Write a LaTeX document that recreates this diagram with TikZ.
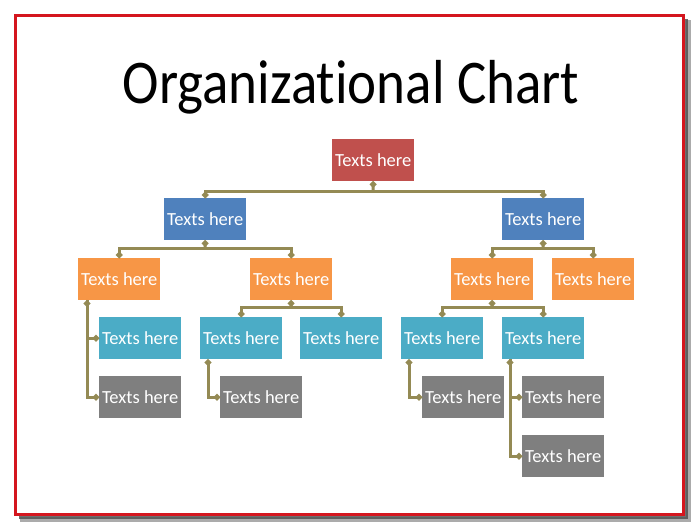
\documentclass[tikz,border=0pt]{standalone}
\usepackage{fontspec}
\setmainfont{Carlito}[Ligatures=NoCommon]
\usetikzlibrary{arrows.meta}
\definecolor{cRoot}{HTML}{C0504D}
\definecolor{cBlue}{HTML}{4F81BD}
\definecolor{cOrange}{HTML}{F79646}
\definecolor{cTeal}{HTML}{4BACC6}
\definecolor{cGray}{HTML}{7F7F7F}
\definecolor{cLine}{HTML}{948A54}
\definecolor{cFrame}{HTML}{D4161E}
\begin{document}
\begin{tikzpicture}[x=1pt,y=-1pt,
  box/.style={minimum width=82pt,minimum height=42pt,inner sep=0pt,text=white,
    font=\fontsize{18.5}{20}\selectfont,anchor=north west},
  conn/.style={draw=cLine,line width=3pt},
  tipboth/.style={{Circle[length=6pt,width=6pt]}-{Circle[length=6pt,width=6pt]}},
  tipend/.style={-{Circle[length=6pt,width=6pt]}},
  tipstart/.style={{Circle[length=6pt,width=6pt]}-}]
\useasboundingbox (0,0) rectangle (700,531);
\fill[white] (0,0) rectangle (700,531);
% frame with shadow
\draw[line width=5pt,black!55,opacity=0.6] (688,20) -- (688,519.5) -- (20,519.5);
\draw[line width=3pt,black!70,opacity=0.8] (686.5,19) -- (686.5,517.5) -- (19,517.5);
\draw[line width=3pt,cFrame] (15.5,15.5) rectangle (683.5,514.5);
% title
\node[anchor=base,font=\fontsize{55}{60}\selectfont,yscale=1.13] (title) at (351,103) {Organizational Chart};
% nodes
\node[box,fill=cRoot] (root) at (332,139) {Texts here};
\node[box,fill=cBlue] (b1) at (164,198) {Texts here};
\node[box,fill=cBlue] (b2) at (502,198) {Texts here};
\node[box,fill=cOrange] (o1) at (78,258) {Texts here};
\node[box,fill=cOrange] (o2) at (250,258) {Texts here};
\node[box,fill=cOrange] (o3) at (451,258) {Texts here};
\node[box,fill=cOrange] (o4) at (552,258) {Texts here};
\node[box,fill=cTeal] (t1) at (99,317) {Texts here};
\node[box,fill=cTeal] (t2) at (200,317) {Texts here};
\node[box,fill=cTeal] (t3) at (300,317) {Texts here};
\node[box,fill=cTeal] (t4) at (401,317) {Texts here};
\node[box,fill=cTeal] (t5) at (502,317) {Texts here};
\node[box,fill=cGray] (g1) at (99,376) {Texts here};
\node[box,fill=cGray] (g2) at (220,376) {Texts here};
\node[box,fill=cGray] (g3) at (422,376) {Texts here};
\node[box,fill=cGray] (g4) at (522,376) {Texts here};
\node[box,fill=cGray] (g5) at (522,435) {Texts here};
% bus coordinates
\coordinate (busR) at (373,191);
\coordinate (busB1) at (205,248);
\coordinate (busB2) at (543,248.5);
\coordinate (busO2) at (291,307);
\coordinate (busO3) at (492,307);
% connectors
\draw[conn,tipstart] (root.south) -- (busR);
\draw[conn,tipend] (busR) -| (b1.north);
\draw[conn,tipend] (busR) -| (b2.north);
\draw[conn,tipstart] (b1.south) -- (busB1);
\draw[conn,tipend] (busB1) -| (o1.north);
\draw[conn,tipend] (busB1) -| (o2.north);
\draw[conn,tipstart] (b2.south) -- (busB2);
\draw[conn,tipend] (busB2) -| (o3.north);
\draw[conn,tipend] (busB2) -| (o4.north);
\draw[conn,tipstart] (o2.south) -- (busO2);
\draw[conn,tipend] (busO2) -| (t2.north);
\draw[conn,tipend] (busO2) -| (t3.north);
\draw[conn,tipstart] (o3.south) -- (busO3);
\draw[conn,tipend] (busO3) -| (t4.north);
\draw[conn,tipend] (busO3) -| (t5.north);
\draw[conn,tipboth] ([xshift=9pt]o1.south west) |- (t1.west);
\draw[conn,tipend] ([xshift=9pt]o1.south west) |- (g1.west);
\draw[conn,tipboth] ([xshift=8pt]t2.south west) |- (g2.west);
\draw[conn,tipboth] ([xshift=8pt]t4.south west) |- (g3.west);
\draw[conn,tipboth] ([xshift=8pt]t5.south west) |- (g4.west);
\draw[conn,tipend] ([xshift=8pt]t5.south west) |- (g5.west);
\end{tikzpicture}
\end{document}
